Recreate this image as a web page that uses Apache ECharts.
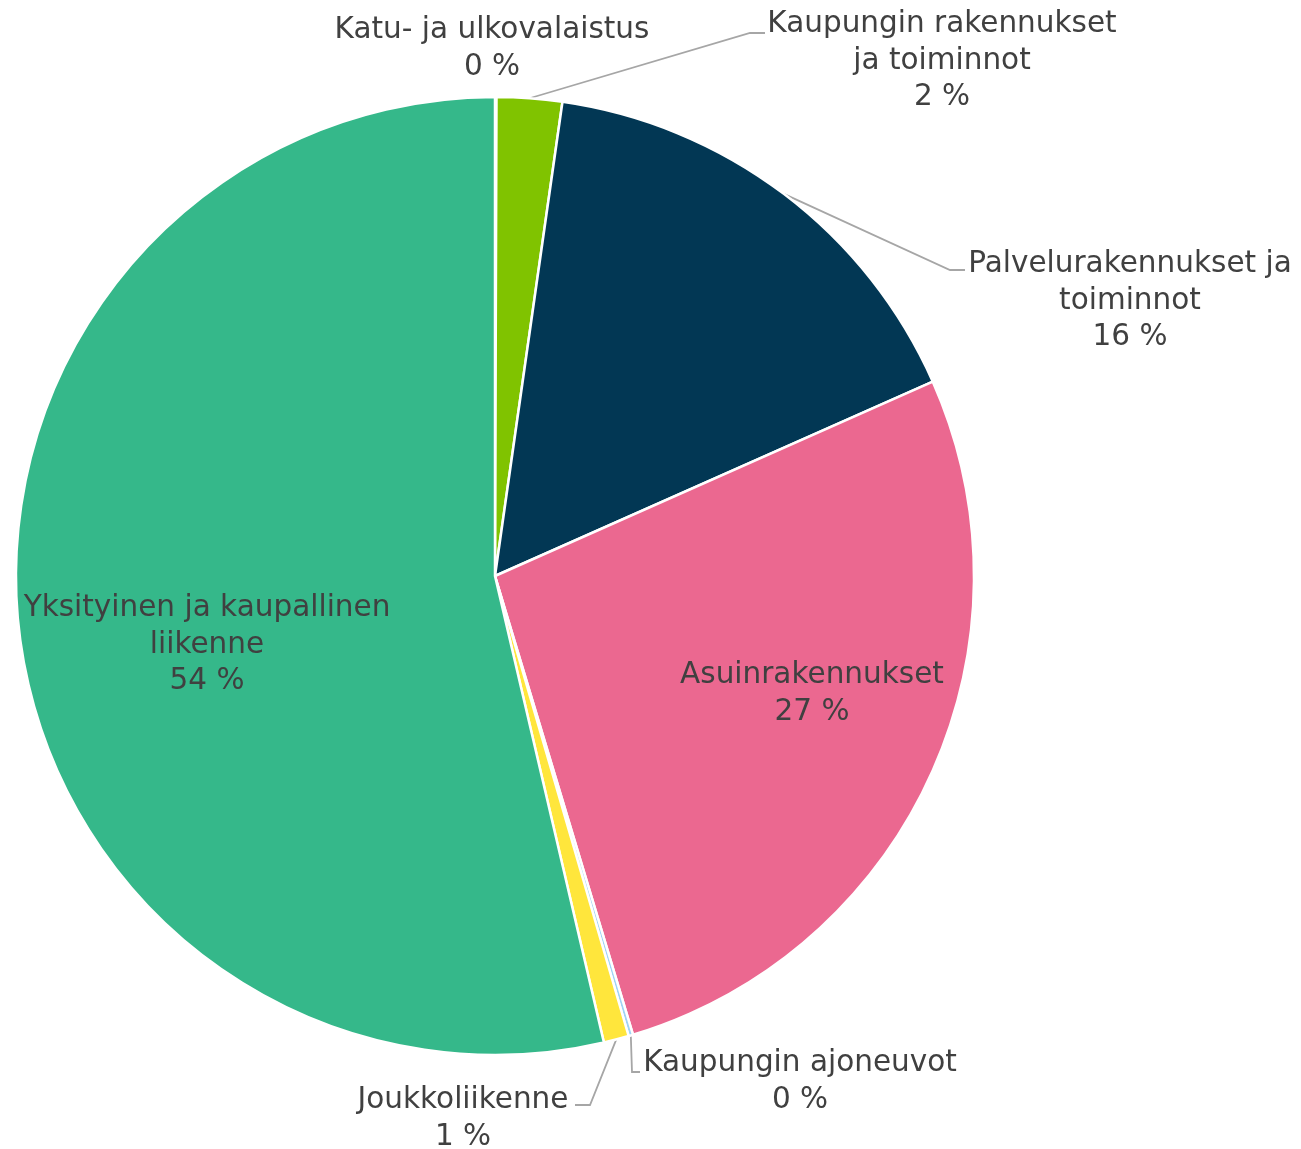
<!DOCTYPE html>
<html>
<head>
<meta charset="utf-8">
<script src="https://cdn.jsdelivr.net/npm/echarts@6/dist/echarts.min.js"></script>
<style>
  html, body { margin: 0; padding: 0; background: #fff; }
  #chart { width: 1301px; height: 1149px; }
</style>
</head>
<body>
<div id="chart"></div>
<script>
// sektorit myötäpäivään klo 12:sta alkaen
const categories = [
    'Katu- ja ulkovalaistus',
    'Kaupungin rakennukset ja toiminnot',
    'Palvelurakennukset ja toiminnot',
    'Asuinrakennukset',
    'Kaupungin ajoneuvot',
    'Joukkoliikenne',
    'Yksityinen ja kaupallinen liikenne',
];
const shares = [0.05, 2.2, 16.1, 27.0, 0.15, 0.85, 53.65];
// näkyvät tekstit (rivitys kuten alkuperäisessä)
const labelTexts = [
    'Katu- ja ulkovalaistus',
    'Kaupungin rakennukset\nja toiminnot',
    'Palvelurakennukset ja\ntoiminnot',
    'Asuinrakennukset',
    'Kaupungin ajoneuvot',
    'Joukkoliikenne',
    'Yksityinen ja kaupallinen\nliikenne',
];
const colors = ['#bfbfbf', '#80c300', '#023754', '#eb6890', '#9fd3f5', '#ffe63c', '#35b88a'];

// label placement: [centerX, centerY, elbowX, elbowY, endX] (null = no leader)
const labelSpots = [
    [492, 49, null],
    [942, 61, 750, 33, 765],
    [1130, 301, 950, 270, 965],
    [812, 694, null],
    [800, 1082, 632, 1072, 640],
    [463, 1119, 590, 1105, 575],
    [207, 645, null],
];

const chart = echarts.init(document.getElementById('chart'));

const seriesData = categories.map((name, i) => ({
    name,
    value: shares[i],
    itemStyle: { color: colors[i] },
    labelLine: { show: labelSpots[i][2] != null },
}));

chart.setOption({
    animation: false,
    series: [
        {
            type: 'pie',
            center: [495, 576],
            radius: [0, 479],
            startAngle: 90,
            clockwise: true,
            avoidLabelOverlap: false,
            itemStyle: {
                borderColor: '#ffffff',
                borderWidth: 2.5,
            },
            label: {
                show: true,
                position: 'outside',
                color: '#404040',
                fontFamily: 'DejaVu Sans',
                fontSize: 29.5,
                lineHeight: 36.5,
                align: 'center',
                formatter: (p) => `${labelTexts[p.dataIndex]}\n${Math.round(p.percent)} %`,
            },
            labelLine: {
                lineStyle: { color: '#a6a6a6', width: 1.8 },
            },
            emphasis: { disabled: true },
            labelLayout: (params) => {
                const spot = labelSpots[params.dataIndex];
                const out = {
                    x: spot[0],
                    y: spot[1],
                    align: 'center',
                    verticalAlign: 'middle',
                    hideOverlap: false,
                    moveOverlap: null,
                };
                if (spot[2] != null && params.labelLinePoints) {
                    out.labelLinePoints = [
                        params.labelLinePoints[0],
                        [spot[2], spot[3]],
                        [spot[4], spot[3]],
                    ];
                }
                return out;
            },
            data: seriesData,
        },
    ],
});
</script>
</body>
</html>
